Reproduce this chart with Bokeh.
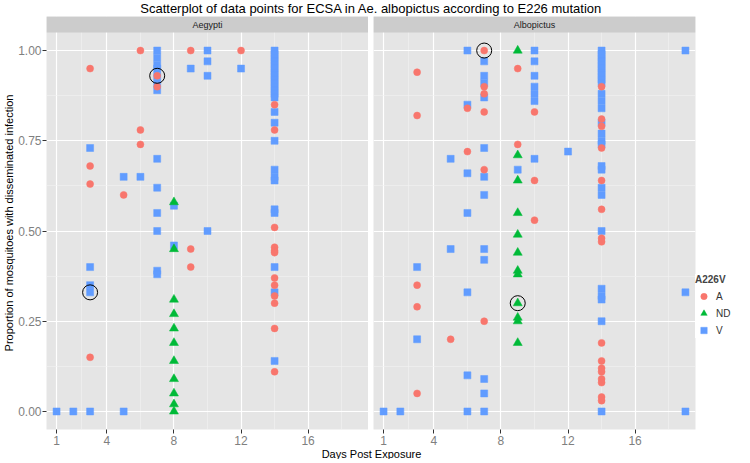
from bokeh.plotting import figure
from bokeh.layouts import column, row
from bokeh.models import (Range1d, FixedTicker, Legend, LegendItem,
                          ColumnDataSource, NumeralTickFormatter)
from bokeh.core.properties import value
from bokeh.embed import file_html
from bokeh.resources import INLINE

title_text = "Scatterplot of data points for ECSA in Ae. albopictus according to E226 mutation"
x_label = "Days Post Exposure"
y_label = "Proportion of mosquitoes with disseminated infection"
legend_title = "A226V"
groups = ["A", "ND", "V"]
panels = ["Aegypti", "Albopictus"]
x_ticks = [1, 4, 8, 12, 16]
x_minor = [2.5, 6, 10, 14, 18]
y_ticks = [0, 0.25, 0.5, 0.75, 1.0]
y_minor = [0.125, 0.375, 0.625, 0.875]

# ---- Aegypti panel ----
aeg_A_day = [6, 9, 12, 3, 7, 7, 14, 6, 14, 6, 3, 3, 5, 14, 9, 14, 14, 14, 9, 14, 14, 14, 14, 14, 3, 14]
aeg_A_prop = [1.00, 1.00, 1.00, 0.95, 0.93, 0.90, 0.85, 0.78, 0.78, 0.74, 0.68, 0.63, 0.60, 0.51,
              0.45, 0.455, 0.445, 0.44, 0.40, 0.37, 0.35, 0.32, 0.30, 0.23, 0.15, 0.11]
aeg_ND_day = [8, 8, 8, 8, 8, 8, 8, 8, 8, 8, 8]
aeg_ND_prop = [0.58, 0.45, 0.31, 0.27, 0.23, 0.19, 0.14, 0.09, 0.05, 0.02, 0.00]
aeg_V_day = [7, 7, 7, 7, 7, 7, 7, 7, 7, 7, 7, 7, 7,
             10, 10, 10, 10, 9, 12,
             14, 14, 14, 14, 14, 14, 14, 14, 14, 14, 14, 14, 14, 14,
             14, 14, 14, 14, 14, 14, 14, 14, 14, 14, 14,
             3, 3, 3, 3, 3, 5, 5, 6, 8, 8, 1, 2]
aeg_V_prop = [1.00, 0.98, 0.96, 0.95, 0.93, 0.91, 0.89, 0.70, 0.62, 0.55, 0.50, 0.39, 0.38,
              1.00, 0.97, 0.93, 0.50, 0.95, 0.95,
              1.00, 0.99, 0.98, 0.97, 0.96, 0.95, 0.94, 0.93, 0.92, 0.91, 0.90, 0.89, 0.88, 0.87,
              0.83, 0.80, 0.75, 0.67, 0.65, 0.64, 0.56, 0.55, 0.40, 0.33, 0.14,
              0.73, 0.40, 0.35, 0.33, 0.00, 0.65, 0.00, 0.65, 0.57, 0.46, 0.00, 0.00]
aeg_circ_day = [7, 3]
aeg_circ_prop = [0.93, 0.33]

# ---- Albopictus panel ----
alb_A_day = [7, 3, 9, 7, 7, 14, 6, 3, 7, 10, 14, 14, 14, 9, 6, 7, 10, 14, 14, 10, 14, 14,
             3, 3, 7, 5, 14, 14, 14, 14, 14, 14, 14, 14, 3]
alb_A_prop = [1.00, 0.94, 0.95, 0.90, 0.88, 0.90, 0.84, 0.82, 0.83, 0.83, 0.81, 0.79, 0.73, 0.74,
              0.72, 0.67, 0.64, 0.64, 0.56, 0.53, 0.48, 0.47, 0.35, 0.29, 0.25, 0.20, 0.19, 0.14,
              0.12, 0.11, 0.09, 0.08, 0.04, 0.03, 0.05]
alb_ND_day = [9, 9, 9, 9, 9, 9, 9, 9, 9, 9, 9, 9]
alb_ND_prop = [1.00, 0.71, 0.64, 0.55, 0.49, 0.44, 0.39, 0.38, 0.30, 0.26, 0.25, 0.19]
alb_V_day = [6, 6, 6, 6, 6, 6, 6,
             7, 7, 7, 7, 7, 7, 7, 7, 7, 7, 7, 7,
             10, 10, 10, 10, 10, 10, 10, 9,
             14, 14, 14, 14, 14, 14, 14, 14, 14, 14, 14, 14, 14, 14, 14, 14, 14,
             14, 14, 14, 14, 14, 14, 14, 14, 14, 14,
             19, 19, 19, 12, 5, 5, 3, 3, 1, 2]
alb_V_prop = [1.00, 0.85, 0.66, 0.55, 0.33, 0.10, 0.00,
              0.97, 0.93, 0.91, 0.87, 0.73, 0.65, 0.60, 0.45, 0.42, 0.09, 0.05, 0.00,
              1.00, 0.97, 0.93, 0.90, 0.88, 0.86, 0.70, 0.67,
              1.00, 0.99, 0.98, 0.97, 0.96, 0.95, 0.94, 0.93, 0.92, 0.91, 0.88, 0.86, 0.84,
              0.80, 0.77, 0.75, 0.74,
              0.68, 0.67, 0.62, 0.60, 0.50, 0.34, 0.32, 0.31, 0.25, 0.00,
              1.00, 0.33, 0.00, 0.72, 0.70, 0.45, 0.40, 0.20, 0.00, 0.00]
alb_circ_day = [7, 9]
alb_circ_prop = [1.00, 0.30]

colors = {"A": "#F8766D", "ND": "#00BA38", "V": "#619CFF"}
markers = {"A": "circle", "ND": "triangle", "V": "square"}
sizes = {"A": 7, "ND": 9, "V": 7}

FONT = "Liberation Sans"
FRAME_W = 322
FRAME_H = 413
STRIP = 16
GAP = 5
TOTAL_W = 746
X0, X1 = 0.4, 19.6
Y0, Y1 = -0.05, 1.05


def make_panel(name, data, circ, first, with_legend):
    ytop = Y1 + (Y1 - Y0) * STRIP / (FRAME_H - STRIP)
    p = figure(frame_width=FRAME_W, frame_height=FRAME_H,
               x_range=Range1d(X0, X1), y_range=Range1d(Y0, ytop),
               output_backend="svg", toolbar_location=None,
               min_border_left=0 if first else GAP, min_border_right=0,
               min_border_top=0, min_border_bottom=0,
               background_fill_color="#E5E5E5", border_fill_color="white",
               outline_line_color=None)
    p.xaxis.ticker = FixedTicker(ticks=x_ticks, minor_ticks=x_minor)
    p.yaxis.ticker = FixedTicker(ticks=y_ticks, minor_ticks=y_minor)
    p.yaxis.formatter = NumeralTickFormatter(format="0.00")
    for g in p.grid:
        g.grid_line_color = "white"
        g.grid_line_width = 1.2
        g.minor_grid_line_color = "#F2F2F2"
        g.minor_grid_line_width = 0.6
    for ax in p.axis:
        ax.axis_line_color = None
        ax.major_tick_line_color = "#333333"
        ax.major_tick_out = 4
        ax.major_tick_in = 0
        ax.minor_tick_line_color = None
        ax.major_label_text_color = "#7F7F7F"
        ax.major_label_text_font_size = "12px"
        ax.major_label_text_font = FONT
        ax.major_label_standoff = 2
    if first:
        p.yaxis.axis_label = y_label
        p.yaxis.axis_label_text_font = FONT
        p.yaxis.axis_label_text_font_size = "11px"
        p.yaxis.axis_label_text_font_style = "normal"
        p.yaxis.axis_label_text_color = "black"
        p.yaxis.axis_label_standoff = 0
        p.yaxis.major_label_standoff = 1
    else:
        p.yaxis.visible = False

    # facet strip
    p.quad(left=[X0], right=[X1], bottom=[Y1], top=[ytop],
           fill_color="#CCCCCC", line_color=None)
    p.text(x=[(X0 + X1) / 2], y=[(Y1 + ytop) / 2], text=[name],
           text_font=value(FONT), text_font_size="9px", text_color="#1A1A1A",
           text_align="center", text_baseline="middle")

    rends = {}
    for g in ["V", "A", "ND"]:
        days, props = data[g]
        src = ColumnDataSource(dict(x=days, y=props))
        rends[g] = p.scatter("x", "y", source=src, marker=markers[g], size=sizes[g],
                             fill_color=colors[g], line_color=colors[g], line_width=0.5)
    csrc = ColumnDataSource(dict(x=circ[0], y=circ[1]))
    p.scatter("x", "y", source=csrc, marker="circle", size=15,
              fill_color=None, line_color="black", line_width=1)

    if with_legend:
        bg = p.quad(left=[], right=[], top=[], bottom=[],
                    fill_color="#F2F2F2", line_color="white")
        items = [LegendItem(label=g, renderers=[bg, rends[g]]) for g in groups]
        leg = Legend(items=items, title=legend_title, location=(0, 91),
                     title_text_font=FONT, title_text_font_size="10px",
                     title_text_font_style="bold", title_standoff=3,
                     label_text_font=FONT, label_text_font_size="10px",
                     label_text_color="#333333",
                     glyph_width=17, glyph_height=16, spacing=1,
                     padding=3, margin=6, label_standoff=4,
                     border_line_color=None, background_fill_color="white")
        p.add_layout(leg, "right")
    return p


left = make_panel(panels[0],
                  {"A": (aeg_A_day, aeg_A_prop), "ND": (aeg_ND_day, aeg_ND_prop),
                   "V": (aeg_V_day, aeg_V_prop)},
                  (aeg_circ_day, aeg_circ_prop), True, False)
right = make_panel(panels[1],
                   {"A": (alb_A_day, alb_A_prop), "ND": (alb_ND_day, alb_ND_prop),
                    "V": (alb_V_day, alb_V_prop)},
                   (alb_circ_day, alb_circ_prop), False, True)


def text_strip(txt, h, size, xc):
    f = figure(width=TOTAL_W, height=h, x_range=Range1d(0, TOTAL_W), y_range=Range1d(0, h),
               output_backend="svg", toolbar_location=None, x_axis_type=None, y_axis_type=None,
               min_border=0, outline_line_color=None, background_fill_color="white",
               border_fill_color="white")
    f.grid.visible = False
    f.text(x=[xc], y=[h / 2], text=[txt], text_font=value(FONT), text_font_size=size,
           text_color="black", text_align="center", text_baseline="middle")
    return f


header = text_strip(title_text, 16, "13px", 371)
footer = text_strip(x_label, 12, "11px", 371)

layout = column(header, row(left, right), footer)
open("out.html", "w").write(file_html(layout, INLINE))
